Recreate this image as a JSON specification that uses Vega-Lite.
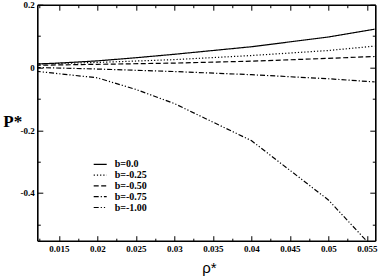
{
  "$schema": "https://vega.github.io/schema/vega-lite/v6.json",
  "width": 338,
  "height": 236,
  "autosize": {"type": "none"},
  "padding": {"left": 37.3, "top": 4.7, "right": 4.7, "bottom": 35.3},
  "background": "white",
  "config": {
    "view": {"stroke": null},
    "axis": {"grid": false, "domainColor": "black", "domainWidth": 1.6, "tickColor": "black", "tickWidth": 1, "labelColor": "black", "labelFont": "Liberation Serif", "labelFontWeight": "bold", "labelFontSize": 9, "labelFlush": false, "labelOverlap": false}
  },
  "data": {
    "values": [
      {"x": 0.012, "P": 0.011, "b": "b=0.0"},
      {"x": 0.015, "P": 0.014, "b": "b=0.0"},
      {"x": 0.02, "P": 0.021, "b": "b=0.0"},
      {"x": 0.025, "P": 0.031, "b": "b=0.0"},
      {"x": 0.03, "P": 0.042, "b": "b=0.0"},
      {"x": 0.04, "P": 0.066, "b": "b=0.0"},
      {"x": 0.05, "P": 0.097, "b": "b=0.0"},
      {"x": 0.056, "P": 0.122, "b": "b=0.0"},
      {"x": 0.012, "P": 0.011, "b": "b=-0.25"},
      {"x": 0.02, "P": 0.016, "b": "b=-0.25"},
      {"x": 0.03, "P": 0.025, "b": "b=-0.25"},
      {"x": 0.04, "P": 0.038, "b": "b=-0.25"},
      {"x": 0.05, "P": 0.054, "b": "b=-0.25"},
      {"x": 0.056, "P": 0.068, "b": "b=-0.25"},
      {"x": 0.012, "P": 0.007, "b": "b=-0.50"},
      {"x": 0.02, "P": 0.01, "b": "b=-0.50"},
      {"x": 0.03, "P": 0.014, "b": "b=-0.50"},
      {"x": 0.04, "P": 0.02, "b": "b=-0.50"},
      {"x": 0.05, "P": 0.029, "b": "b=-0.50"},
      {"x": 0.056, "P": 0.035, "b": "b=-0.50"},
      {"x": 0.012, "P": 0.0, "b": "b=-0.75"},
      {"x": 0.02, "P": -0.005, "b": "b=-0.75"},
      {"x": 0.03, "P": -0.013, "b": "b=-0.75"},
      {"x": 0.04, "P": -0.023, "b": "b=-0.75"},
      {"x": 0.05, "P": -0.036, "b": "b=-0.75"},
      {"x": 0.056, "P": -0.046, "b": "b=-0.75"},
      {"x": 0.012, "P": -0.012, "b": "b=-1.00"},
      {"x": 0.02, "P": -0.033, "b": "b=-1.00"},
      {"x": 0.025, "P": -0.07, "b": "b=-1.00"},
      {"x": 0.03, "P": -0.115, "b": "b=-1.00"},
      {"x": 0.04, "P": -0.233, "b": "b=-1.00"},
      {"x": 0.05, "P": -0.422, "b": "b=-1.00"},
      {"x": 0.056, "P": -0.58, "b": "b=-1.00"}
    ]
  },
  "layer": [
    {
      "mark": {"type": "line", "clip": true, "strokeWidth": 1.2, "color": "black"},
      "encoding": {
        "x": {
          "field": "x", "type": "quantitative",
          "scale": {"domain": [0.0122, 0.0561], "nice": false, "zero": false},
          "axis": {
            "orient": "bottom",
            "values": [0.0125, 0.015, 0.0175, 0.02, 0.0225, 0.025, 0.0275, 0.03, 0.0325, 0.035, 0.0375, 0.04, 0.0425, 0.045, 0.0475, 0.05, 0.0525, 0.055],
            "tickSize": {"condition": {"test": "round(datum.value*400)%2==0", "value": -5}, "value": -2.5},
            "labelExpr": "round(datum.value*400)%2==0 ? '' + datum.value : ''",
            "labelPadding": 9,
            "title": "ρ*",
            "titleFont": "Liberation Sans",
            "titleFontWeight": "normal",
            "titleFontSize": 15,
            "titleColor": "black",
            "titleAlign": "left",
            "titleBaseline": "alphabetic",
            "titleAnchor": "start",
            "titleX": 164.5,
            "titleY": 32
          }
        },
        "y": {
          "field": "P", "type": "quantitative",
          "scale": {"domain": [-0.552, 0.2], "nice": false, "zero": false},
          "axis": {
            "orient": "left",
            "values": [0.2, 0.1, 0, -0.1, -0.2, -0.3, -0.4, -0.5],
            "tickSize": {"condition": {"test": "round(datum.value*10)%2==0", "value": -5.5}, "value": -3},
            "labelExpr": "round(datum.value*10)%2==0 ? '' + datum.value : ''",
            "labelPadding": 8.5,
            "labelBaseline": "middle",
            "title": "P*",
            "titleFont": "Liberation Serif",
            "titleFontWeight": "bold",
            "titleFontSize": 17,
            "titleColor": "black",
            "titleAngle": 0,
            "titleAlign": "left",
            "titleBaseline": "alphabetic",
            "titleAnchor": "start",
            "titleX": -34.5,
            "titleY": 122
          }
        },
        "strokeDash": {
          "field": "b", "type": "nominal",
          "scale": {
            "domain": ["b=0.0", "b=-0.25", "b=-0.50", "b=-0.75", "b=-1.00"],
            "range": [[1, 0], [1.2, 2], [5, 2.5], [5, 2, 1.2, 2], [5, 2, 1.2, 2, 1.2, 2]]
          },
          "legend": {
            "orient": "none",
            "legendX": 55.4,
            "legendY": 154.6,
            "title": null,
            "padding": 0,
            "symbolType": "stroke",
            "symbolSize": 169,
            "symbolStrokeColor": "black",
            "symbolStrokeWidth": 1.2,
            "labelFont": "Liberation Serif",
            "labelFontWeight": "bold",
            "labelFontSize": 10,
            "labelColor": "black",
            "labelOffset": 7,
            "clipHeight": 10,
            "rowPadding": 0.8
          }
        }
      }
    },
    {
      "mark": {"type": "line", "clip": true, "opacity": 0},
      "encoding": {
        "x": {
          "field": "x", "type": "quantitative",
          "axis": {
            "orient": "top",
            "values": [0.0125, 0.015, 0.0175, 0.02, 0.0225, 0.025, 0.0275, 0.03, 0.0325, 0.035, 0.0375, 0.04, 0.0425, 0.045, 0.0475, 0.05, 0.0525, 0.055],
            "tickSize": {"condition": {"test": "round(datum.value*400)%2==0", "value": -5.5}, "value": -3},
            "labels": false,
            "title": null
          }
        },
        "y": {
          "field": "P", "type": "quantitative",
          "axis": {
            "orient": "right",
            "values": [0.2, 0.1, 0, -0.1, -0.2, -0.3, -0.4, -0.5],
            "tickSize": {"condition": {"test": "round(datum.value*10)%2==0", "value": -5.5}, "value": -3},
            "labels": false,
            "title": null
          }
        },
        "detail": {"field": "b"}
      }
    }
  ],
  "resolve": {"axis": {"x": "independent", "y": "independent"}}
}
